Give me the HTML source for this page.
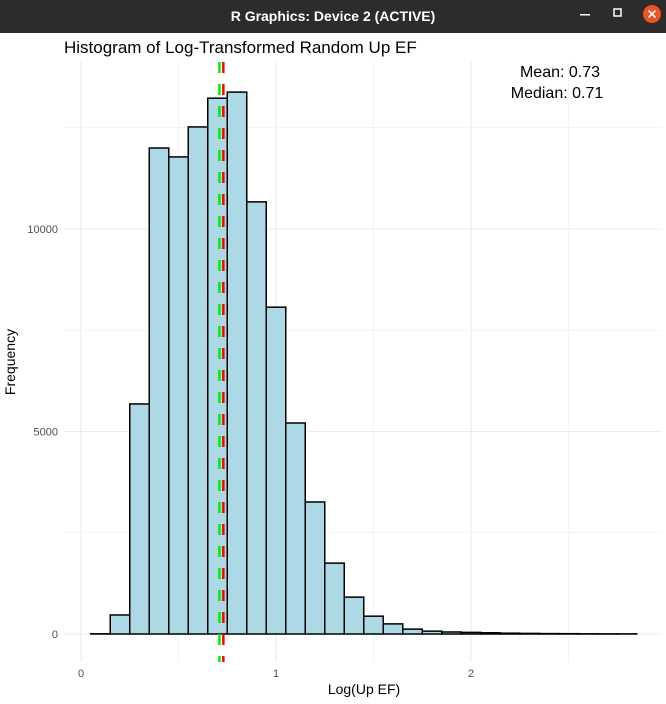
<!DOCTYPE html>
<html><head><meta charset="utf-8"><style>
body{margin:0;width:666px;height:704px;overflow:hidden;background:#fff;font-family:"Liberation Sans",sans-serif}
</style></head><body>
<svg style="position:absolute;left:0;top:0" width="666" height="704">
<rect x="0" y="0" width="666" height="33" fill="#2c2c2c"/>
<text x="333" y="21" fill="#fff" font-weight="bold" font-size="14" text-anchor="middle" font-family="Liberation Sans">R Graphics: Device 2 (ACTIVE)</text>
<rect x="580" y="14" width="10" height="1.5" fill="#fff"/>
<rect x="614" y="9" width="7" height="7" fill="none" stroke="#fff" stroke-width="1.5"/>
<circle cx="652" cy="14" r="9" fill="#e95420"/>
<path d="M648.5 10.5l7 7M655.5 10.5l-7 7" stroke="#fff" stroke-width="1.6"/>
<g id="grid"></g><g id="bars"></g><g id="lines"></g><g id="axes"></g>
<text x="64" y="53" font-size="17" fill="#000">Histogram of Log-Transformed Random Up EF</text>
<text x="560" y="77" font-size="16" text-anchor="middle">Mean: 0.73</text>
<text x="557" y="98" font-size="16" text-anchor="middle">Median: 0.71</text>
<text x="364" y="694" font-size="14" text-anchor="middle">Log(Up EF)</text>
<text transform="translate(15,362) rotate(-90)" font-size="14" text-anchor="middle">Frequency</text>
</svg>
<script>
const binStarts=[0.05,0.15,0.25,0.35,0.45,0.55,0.65,0.75,0.85,0.95,1.05,1.15,1.25,1.35,1.45,1.55,1.65,1.75,1.85,1.95,2.05,2.15,2.25,2.35,2.45,2.55,2.65,2.75];
const counts=[5,470,5680,12000,11780,12520,13230,13380,10670,8070,5210,3260,1750,910,440,250,120,70,50,40,30,20,15,10,8,5,4,3];
const xTicks=[0,1,2];
const yTicks=[0,5000,10000];
const binWidth=0.1, meanVal=0.73, medianVal=0.71;
const X=v=>81+v*195, Y=v=>634-v*0.0405;
const ns="http://www.w3.org/2000/svg";
function mk(p,t,a){const e=document.createElementNS(ns,t);for(const k in a)e.setAttribute(k,a[k]);p.appendChild(e);return e;}
const G=document.getElementById('grid'),B=document.getElementById('bars'),L=document.getElementById('lines'),A=document.getElementById('axes');
[0,0.5,1,1.5,2,2.5].forEach(v=>{const l=mk(G,'line',{x1:X(v),x2:X(v),y1:62,y2:662,stroke:'#ebebeb','stroke-width':v%1?0.6:1.1});

});
[0,2500,5000,7500,10000,12500].forEach(v=>{const l=mk(G,'line',{x1:64,x2:662,y1:Y(v),y2:Y(v),stroke:'#ebebeb','stroke-width':v%5000?0.6:1.1});

});
binStarts.forEach((s,i)=>{const r=mk(B,'rect',{x:X(s),y:Y(counts[i]),width:binWidth*195,height:Y(0)-Y(counts[i]),fill:'#add8e6',stroke:'#000','stroke-width':1.5});

});
const md=mk(L,'line',{x1:X(medianVal),x2:X(medianVal),y1:62,y2:662,stroke:'#00ee00','stroke-width':2.5,'stroke-dasharray':'11 11'});


const mn=mk(L,'line',{x1:X(meanVal),x2:X(meanVal),y1:62,y2:662,stroke:'#ff0000','stroke-width':2.5,'stroke-dasharray':'11 11'});


xTicks.forEach(v=>{const t=mk(A,'text',{x:X(v),y:677,'font-size':11,fill:'#4d4d4d','text-anchor':'middle'});t.textContent=v;

});
yTicks.forEach(v=>{const t=mk(A,'text',{x:58,y:Y(v)+4,'font-size':11,fill:'#4d4d4d','text-anchor':'end'});t.textContent=v;

});
</script>
</body></html>
